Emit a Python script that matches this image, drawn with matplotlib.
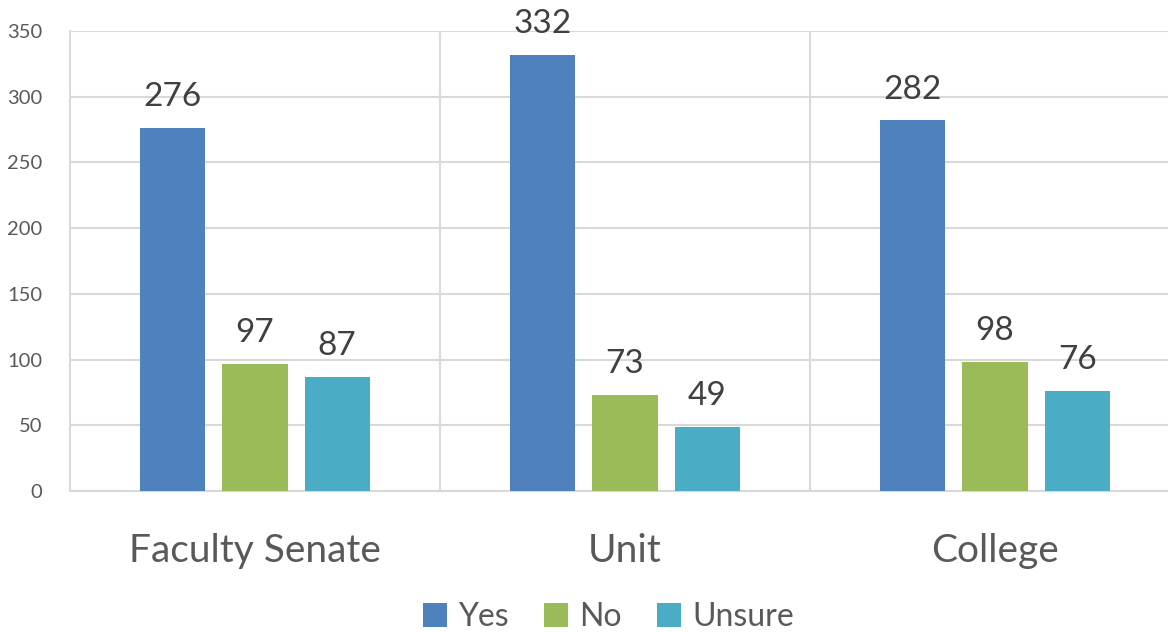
import numpy as np
import matplotlib.pyplot as plt

categories = ['Faculty Senate', 'Unit', 'College']
series_names = ['Yes', 'No', 'Unsure']
yes_vals = [276, 332, 282]
no_vals = [97, 73, 98]
unsure_vals = [87, 49, 76]
yticks = [0, 50, 100, 150, 200, 250, 300, 350]

COLORS = ['#4F81BD', '#9BBB59', '#4BACC6']
GRID = '#d9d9d9'
TXT = '#595959'

plt.rcParams['font.family'] = ['Lato', 'DejaVu Sans']

fig = plt.figure(figsize=(11.68, 6.32), dpi=100)
ax = fig.add_axes([70 / 1168, 1 - 491 / 632, 1 - 70 / 1168, (491 - 31) / 632])

x = np.arange(len(categories))
width = 0.176
offsets = [-0.222, 0.0, 0.222]
all_vals = [yes_vals, no_vals, unsure_vals]

for vals, off, color, name in zip(all_vals, offsets, COLORS, series_names):
    bars = ax.bar(x + off, vals, width, color=color, label=name, zorder=3)
    for b, v in zip(bars, vals):
        ax.text(b.get_x() + b.get_width() / 2, v + 12, str(v),
                ha='center', va='bottom', fontsize=24, color='#404040')

ax.set_ylim(0, 350)
ax.set_xlim(-0.5, -0.5 + 1098 / 370)
ax.set_yticks(yticks)
ax.tick_params(axis='y', length=0, labelsize=14.5, labelcolor=TXT, pad=20)
ax.set_xticks(x)
ax.set_xticklabels(categories)
ax.tick_params(axis='x', length=0, labelsize=28, labelcolor=TXT, pad=30)

# category separators
ax.set_xticks([0.5, 1.5], minor=True)
ax.tick_params(axis='x', which='minor', length=0)
ax.grid(axis='x', which='minor', color=GRID, linewidth=1.5, zorder=0)
ax.grid(axis='y', color=GRID, linewidth=1.5, zorder=0)

for s in ['top', 'right']:
    ax.spines[s].set_visible(False)
for s in ['left', 'bottom']:
    ax.spines[s].set_color(GRID)
    ax.spines[s].set_linewidth(1.5)

leg = fig.legend(loc='center', bbox_to_anchor=(0.521, 1 - 617 / 632), ncol=3,
                 frameon=False, fontsize=23, handlelength=0.75, handleheight=0.75,
                 columnspacing=1.1, handletextpad=0.35)
for t in leg.get_texts():
    t.set_color(TXT)

fig.savefig('out.png', dpi=100)
